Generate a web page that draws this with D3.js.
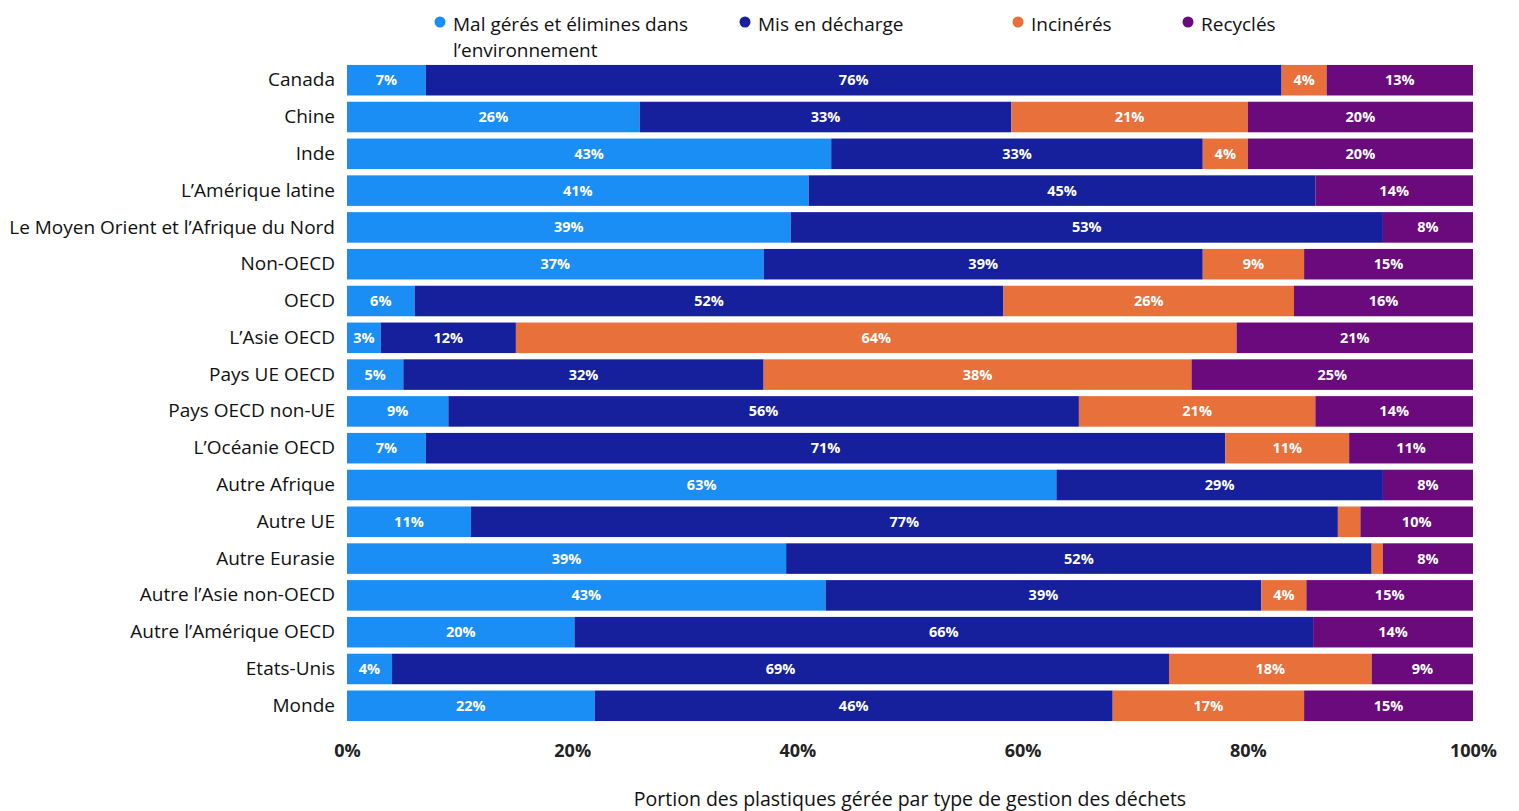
<!DOCTYPE html>
<html lang="fr">
<head>
<meta charset="UTF-8">
<title>Gestion des déchets plastiques</title>
<script src="https://d3js.org/d3.v7.min.js"></script>
<style>
  body { margin: 0; background: #fff; font-family: "Open Sans", "Noto Sans", sans-serif; }
  svg text { font-family: "Open Sans", "Noto Sans", sans-serif; }
  .cat text { font-size: 19px; font-weight: 400; fill: #111; }
  .seglabel { font-size: 14.5px; font-weight: 700; fill: #fff; text-anchor: middle; }
  .xax text { font-size: 18px; font-weight: 700; fill: #222; }
  .legend text { font-size: 19px; fill: #111; }
</style>
</head>
<body>
<svg width="1519" height="811"></svg>
<script>
const categories = ["Canada", "Chine", "Inde", "L’Amérique latine", "Le Moyen Orient et l’Afrique du Nord",
  "Non-OECD", "OECD", "L’Asie OECD", "Pays UE OECD", "Pays OECD non-UE", "L’Océanie OECD",
  "Autre Afrique", "Autre UE", "Autre Eurasie", "Autre l’Asie non-OECD", "Autre l’Amérique OECD",
  "Etats-Unis", "Monde"];

const series = ["Mal gérés et élimines dans l’environnement", "Mis en décharge", "Incinérés", "Recyclés"];
const colors = ["#1b8ef5", "#16209c", "#e8703a", "#6a0a7c"];

const malGeres  = [7, 26, 43, 41, 39.4, 37, 6, 3, 5, 9, 7, 63, 11, 39, 42.5, 20.2, 4, 22];
const decharge  = [76, 33, 33, 45, 52.6, 39, 52.3, 12, 32, 56, 71, 29, 77, 52, 38.7, 65.6, 69, 46];
const incineres = [4, 21, 4, 0, 0, 9, 25.8, 64, 38, 21, 11, 0, 2, 1, 4, 0, 18, 17];
const recycles  = [13, 20, 20, 14, 8, 15, 15.9, 21, 25, 14, 11, 8, 10, 8, 14.8, 14.2, 9, 15];

const xTicks = [0, 20, 40, 60, 80, 100];
const axisTitle = "Portion des plastiques gérée par type de gestion des déchets";

const rows = categories.map((c, i) => ({ cat: c, v: [malGeres[i], decharge[i], incineres[i], recycles[i]] }));

const svg = d3.select("svg");
const m = { left: 347, right: 1473, top: 62, bottom: 724 };

const x = d3.scaleLinear().domain([0, 100]).range([m.left, m.right]);
const y = d3.scaleBand().domain(categories).range([m.top, m.bottom]).paddingInner(0.17).paddingOuter(0.08);

// segments empilés
const segs = [];
rows.forEach(r => {
  let acc = 0;
  r.v.forEach((v, k) => { segs.push({ cat: r.cat, k, x0: acc, x1: acc + v, v }); acc += v; });
});

svg.append("g").selectAll("rect")
  .data(segs.filter(d => d.v > 0))
  .join("rect")
  .attr("x", d => x(d.x0))
  .attr("y", d => y(d.cat))
  .attr("width", d => x(d.x1) - x(d.x0))
  .attr("height", y.bandwidth())
  .attr("fill", d => colors[d.k]);

svg.append("g").selectAll("text")
  .data(segs.filter(d => d.v >= 3))
  .join("text")
  .attr("class", "seglabel")
  .attr("x", d => (x(d.x0) + x(d.x1)) / 2)
  .attr("y", d => y(d.cat) + y.bandwidth() / 2 + 5)
  .text(d => Math.round(d.v) + "%");

// catégories
const gy = svg.append("g").attr("class", "cat")
  .attr("transform", `translate(${m.left},0)`)
  .call(d3.axisLeft(y).tickSize(0).tickPadding(12));
gy.select(".domain").remove();

// axe x
const gx = svg.append("g").attr("class", "xax")
  .attr("transform", `translate(0,${m.bottom + 14})`)
  .call(d3.axisBottom(x).tickValues(xTicks).tickSize(0).tickPadding(6).tickFormat(d => d + "%"));
gx.select(".domain").remove();

svg.append("text")
  .attr("x", (m.left + m.right) / 2)
  .attr("y", 806)
  .attr("text-anchor", "middle")
  .style("font-size", "19.5px")
  .style("fill", "#111")
  .text(axisTitle);

// légende
const legendX = [440, 745, 1018, 1188];
const lg = svg.append("g").attr("class", "legend");
series.forEach((s, i) => {
  lg.append("circle").attr("cx", legendX[i]).attr("cy", 22).attr("r", 5.5).attr("fill", colors[i]);
  if (i === 0) {
    lg.append("text").attr("x", legendX[i] + 13).attr("y", 31).text("Mal gérés et élimines dans");
    lg.append("text").attr("x", legendX[i] + 13).attr("y", 57).text("l’environnement");
  } else {
    lg.append("text").attr("x", legendX[i] + 13).attr("y", 31).text(s);
  }
});
</script>
</body>
</html>
